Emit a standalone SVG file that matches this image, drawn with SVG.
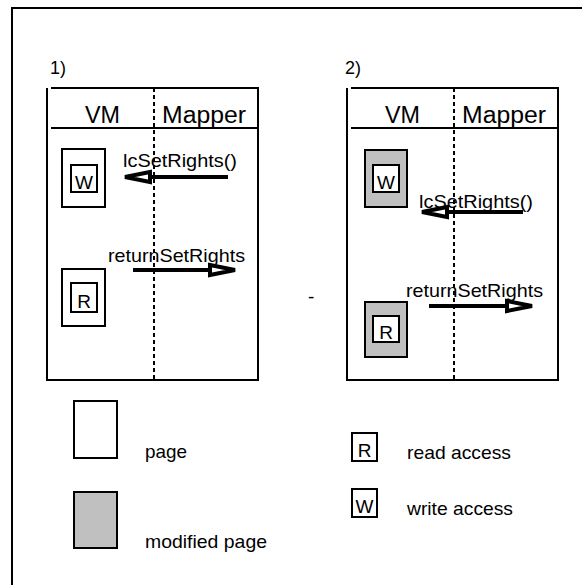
<svg xmlns="http://www.w3.org/2000/svg" width="582" height="585" viewBox="0 0 582 585">
<defs>
<style>
text{font-family:"Liberation Sans",Arial,sans-serif;fill:#000}
.ln{stroke:#000;stroke-width:2;fill:none}
.dash{stroke:#000;stroke-width:2;stroke-dasharray:4,3;fill:none}
.page{fill:#fff;stroke:#000;stroke-width:2}
.mod{fill:#c0c0c0;stroke:#000;stroke-width:2}
.acc{fill:#fff;stroke:#000;stroke-width:2}
.hdr{font-size:23px}
.msg{font-size:19px}
.lbl{font-size:18px}
.acct{font-size:19px;text-anchor:middle}
.leg{font-size:18.5px}
.msgline{stroke:#000;stroke-width:4;fill:none;marker-end:url(#ah)}
</style>
<marker id="ah" markerUnits="userSpaceOnUse" viewBox="0 0 30 16" refX="28" refY="8" markerWidth="30" markerHeight="16" orient="auto">
<path d="M3,3 L28,8 L3,13 Z" fill="#fff" stroke="#000" stroke-width="4" stroke-linejoin="miter"/>
</marker>
</defs>
<rect width="582" height="585" fill="#fff"/>
<g id="outer-frame">
<path class="ln" d="M12,585 V8 H582"/>
</g>

<g id="panel1">
<text class="lbl" x="50" y="74">1)</text>
<path class="ln" d="M47,88 V380 H258 V88 H51 M51,128 H258"/>
<text class="hdr" x="85" y="123" textLength="35" lengthAdjust="spacingAndGlyphs">VM</text>
<text class="hdr" x="162" y="123" textLength="84" lengthAdjust="spacingAndGlyphs">Mapper</text>
</g>
<g id="p1-page-w">
<rect class="page" x="62" y="149" width="43" height="58"/>
<rect class="acc" x="71" y="165" width="26" height="27"/>
<text class="acct" x="84" y="189">W</text>
</g>
<g id="p1-page-r">
<rect class="page" x="62" y="269" width="43" height="57"/>
<rect class="acc" x="71" y="283" width="26" height="29"/>
<text class="acct" x="84" y="308">R</text>
</g>

<g id="panel2">
<text class="lbl" x="345" y="74">2)</text>
<path class="ln" d="M347,88 V380 H558 V88 H351 M351,128 H558"/>
<text class="hdr" x="385" y="123" textLength="35" lengthAdjust="spacingAndGlyphs">VM</text>
<text class="hdr" x="462" y="123" textLength="84" lengthAdjust="spacingAndGlyphs">Mapper</text>
</g>
<g id="p2-page-w">
<rect class="mod" x="365" y="150" width="42" height="57"/>
<rect class="acc" x="373" y="165" width="26" height="27"/>
<text class="acct" x="386" y="189">W</text>
</g>
<g id="p2-page-r">
<rect class="mod" x="365" y="302" width="42" height="55"/>
<rect class="acc" x="373" y="316" width="26" height="26"/>
<text class="acct" x="386" y="339">R</text>
</g>

<text id="separator" x="308" y="303" font-size="19">-</text>

<g id="connectors">
<path class="dash" d="M154,88 V380"/>
<path class="dash" d="M454,88 V380"/>
<path class="msgline" d="M228,177 H125"/>
<path class="msgline" d="M133,270 H235"/>
<path class="msgline" d="M523,212 H422"/>
<path class="msgline" d="M429,306 H532"/>
</g>
<g id="labels">
<text class="msg" x="123" y="167" textLength="114" lengthAdjust="spacingAndGlyphs">lcSetRights()</text>
<text class="msg" x="108" y="262" textLength="137" lengthAdjust="spacingAndGlyphs">returnSetRights</text>
<text class="msg" x="419" y="208" textLength="114" lengthAdjust="spacingAndGlyphs">lcSetRights()</text>
<text class="msg" x="406" y="297" textLength="137" lengthAdjust="spacingAndGlyphs">returnSetRights</text>
</g>

<g id="legend-page">
<rect class="page" x="74" y="401" width="43" height="57"/>
<text class="leg" x="145" y="458" textLength="42" lengthAdjust="spacingAndGlyphs">page</text>
</g>
<g id="legend-modified">
<rect class="mod" x="74" y="492" width="43" height="56"/>
<text class="leg" x="145" y="548" textLength="122" lengthAdjust="spacingAndGlyphs">modified page</text>
</g>
<g id="legend-read">
<rect class="acc" x="352" y="433" width="25" height="28"/>
<text class="acct" x="364.5" y="457">R</text>
<text class="leg" x="407" y="459" textLength="104" lengthAdjust="spacingAndGlyphs">read access</text>
</g>
<g id="legend-write">
<rect class="acc" x="352" y="489" width="25" height="28"/>
<text class="acct" x="364.5" y="513">W</text>
<text class="leg" x="407" y="515" textLength="106" lengthAdjust="spacingAndGlyphs">write access</text>
</g>
</svg>
